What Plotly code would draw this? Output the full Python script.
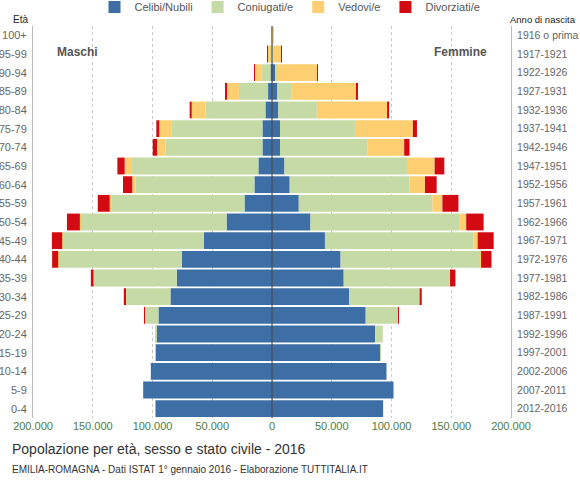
import plotly.graph_objects as go

ages = ["100+", "95-99", "90-94", "85-89", "80-84", "75-79", "70-74", "65-69", "60-64",
        "55-59", "50-54", "45-49", "40-44", "35-39", "30-34", "25-29", "20-24", "15-19",
        "10-14", "5-9", "0-4"]
birth_years = ["1916 o prima", "1917-1921", "1922-1926", "1927-1931", "1932-1936", "1937-1941",
               "1942-1946", "1947-1951", "1952-1956", "1957-1961", "1962-1966", "1967-1971",
               "1972-1976", "1977-1981", "1982-1986", "1987-1991", "1992-1996", "1997-2001",
               "2002-2006", "2007-2011", "2012-2016"]

# Maschi
m_celibi = [50, 300, 1000, 3300, 5500, 8000, 8000, 11400, 14700, 23000, 38000, 57000, 75500,
            79700, 85000, 95000, 97000, 97800, 101400, 107800, 97500]
m_coniugati = [100, 800, 7500, 24400, 50000, 75800, 81000, 105800, 99400, 111700, 122000,
               117800, 103000, 69400, 37500, 11400, 800, 100, 0, 0, 0]
m_vedovi = [350, 2500, 6400, 10500, 11700, 10500, 7200, 6100, 2800, 1100, 800, 800, 500, 300,
            100, 0, 0, 0, 0, 0, 0]
m_divorziati = [0, 50, 100, 500, 1700, 2500, 3600, 6100, 7800, 10000, 10800, 8600, 5000, 2200,
                1400, 300, 0, 0, 0, 0, 0]

# Femmine
f_nubili = [200, 500, 2800, 4500, 5300, 6700, 6700, 10400, 14800, 22400, 32200, 44300, 57400,
            60000, 64700, 78400, 86300, 90500, 95800, 101700, 93000]
f_coniugate = [100, 300, 1100, 11500, 32200, 62700, 73400, 102500, 100300, 111800, 124400,
               124400, 116800, 88500, 58800, 27200, 6400, 300, 0, 0, 0]
f_vedove = [1400, 7300, 33900, 54900, 58800, 48500, 30500, 23200, 12900, 8400, 5900, 3400, 800,
            500, 100, 0, 0, 0, 0, 0, 0]
f_divorziate = [0, 50, 200, 800, 1700, 3400, 4500, 8100, 9800, 13400, 14600, 13400, 8700, 4500,
                1700, 500, 0, 0, 0, 0, 0]

series_names = ["Celibi/Nubili", "Coniugati/e", "Vedovi/e", "Divorziati/e"]
colors = ["#3d6ea5", "#c5daa4", "#fdcf70", "#d20a12"]

tick_vals = [-200000, -150000, -100000, -50000, 0, 50000, 100000, 150000, 200000]
tick_text = ["200.000", "150.000", "100.000", "50.000", "0", "50.000", "100.000", "150.000", "200.000"]

males = [m_celibi, m_coniugati, m_vedovi, m_divorziati]
females = [f_nubili, f_coniugate, f_vedove, f_divorziate]

fig = go.Figure()
for i in range(4):
    fig.add_trace(go.Bar(
        y=ages, x=[-v for v in males[i]], orientation="h", name=series_names[i],
        marker=dict(color=colors[i], line=dict(width=0)), legendgroup=series_names[i],
        showlegend=True))
for i in range(4):
    fig.add_trace(go.Bar(
        y=ages, x=females[i], orientation="h", name=series_names[i],
        marker=dict(color=colors[i], line=dict(width=0)), legendgroup=series_names[i],
        showlegend=False))

# invisible trace to drive right-side axis labels
fig.add_trace(go.Scatter(y=birth_years, x=[0] * len(birth_years), yaxis="y2", mode="markers",
                         marker=dict(opacity=0), showlegend=False, hoverinfo="skip"))

n = len(ages)
W, H = 580, 480
PL, PR, PT, PB = 33, 511, 26, 418


def px(pix):
    return (pix - PL) / (PR - PL)


def py(pix):
    return (PB - pix) / (PB - PT)


fig.update_layout(
    width=W, height=H,
    barmode="relative", bargap=0.1,
    paper_bgcolor="white", plot_bgcolor="white",
    margin=dict(l=PL, r=W - PR, t=PT, b=H - PB, autoexpand=False),
    font=dict(family="Liberation Sans, Arial, sans-serif", size=11, color="#555"),
    legend=dict(orientation="h", x=px(290), xanchor="center", y=py(7), yanchor="middle",
                font=dict(size=11, color="#555"), traceorder="normal",
                itemwidth=30),
    xaxis=dict(range=[-200000, 200000], tickvals=tick_vals, ticktext=tick_text,
               showgrid=True, gridcolor="#c8c8c8", griddash="dot", gridwidth=1,
               zeroline=False, tickfont=dict(color="#4e7b46", size=11), ticks="",
               showline=False, fixedrange=True, automargin=False),
    yaxis=dict(type="category", categoryorder="array", categoryarray=ages[::-1],
               range=[-0.5, n - 0.5], showline=True, linecolor="#bbbbbb", linewidth=1,
               ticks="", tickfont=dict(color="#666", size=11), showgrid=False,
               ticklabelstandoff=3, automargin=False),
    yaxis2=dict(type="category", categoryorder="array", categoryarray=birth_years[::-1],
                range=[-0.5, n - 0.5], overlaying="y", side="right", showline=True,
                linecolor="#bbbbbb", linewidth=1, ticks="",
                tickfont=dict(color="#666", size=10.5), showgrid=False,
                ticklabelstandoff=3, automargin=False),
)

fig.add_shape(type="line", x0=0, x1=0, y0=0, y1=1, xref="x", yref="paper",
              line=dict(color="#444", width=1))

annots = [
    dict(text="Età", x=0.0, xref="paper", y=py(19), yref="paper", xanchor="right",
         yanchor="middle", showarrow=False, font=dict(size=10, color="#222"), xshift=-3),
    dict(text="Anno di nascita", x=1.0, xref="paper", y=py(19), yref="paper",
         xanchor="left", yanchor="middle", showarrow=False, font=dict(size=9.5, color="#222"),
         xshift=-3),
    dict(text="<b>Maschi</b>", x=px(77), xref="paper", y=py(52), yref="paper",
         xanchor="center", yanchor="middle", showarrow=False,
         font=dict(size=12, color="#555")),
    dict(text="<b>Femmine</b>", x=px(460), xref="paper", y=py(52), yref="paper",
         xanchor="center", yanchor="middle", showarrow=False,
         font=dict(size=12, color="#555")),
    dict(text="Popolazione per età, sesso e stato civile - 2016", x=px(10),
         xref="paper", y=py(449), yref="paper", xanchor="left", yanchor="middle",
         showarrow=False, font=dict(size=14, color="#333")),
    dict(text="EMILIA-ROMAGNA - Dati ISTAT 1° gennaio 2016 - Elaborazione TUTTITALIA.IT",
         x=px(10), xref="paper", y=py(469), yref="paper", xanchor="left",
         yanchor="middle", showarrow=False, font=dict(size=10, color="#333")),
]
for a in annots:
    fig.add_annotation(**a)

fig.write_html("out.html", config={"displayModeBar": False},
               post_script="document.body.style.margin='0';")
